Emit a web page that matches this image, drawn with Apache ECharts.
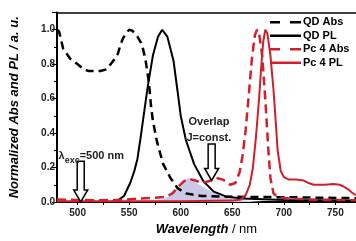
<!DOCTYPE html>
<html>
<head>
<meta charset="utf-8">
<script src="https://cdn.jsdelivr.net/npm/echarts@6/dist/echarts.min.js"></script>
<style>
  html, body { margin: 0; padding: 0; background: #fff; }
  #chart { width: 356px; height: 241px; }
</style>
</head>
<body>
<div id="chart"></div>
<script>
// wavelength (nm) / normalized intensity
const qdAbsX = [480, 482, 486, 493, 500, 506, 511, 522, 528, 532, 536, 539, 542, 544, 547, 550, 553, 556, 558, 561, 563, 566, 569, 571, 573, 577, 583, 590, 597, 605, 620, 650, 700, 770]
const qdAbsY = [1.0, 0.99, 0.89, 0.83, 0.8, 0.77, 0.76, 0.76, 0.77, 0.8, 0.83, 0.86, 0.92, 0.95, 0.98, 1.0, 0.995, 0.975, 0.96, 0.93, 0.9, 0.82, 0.7, 0.57, 0.47, 0.35, 0.22, 0.14, 0.08, 0.05, 0.035, 0.03, 0.028, 0.022]

const qdPlX = [480, 530, 538, 545, 551, 555, 558, 561, 564, 568, 573, 578, 582, 587, 593, 597, 600, 605, 613, 622, 632, 645, 660, 700, 770]
const qdPlY = [0, 0, 0.005, 0.035, 0.11, 0.18, 0.25, 0.37, 0.5, 0.67, 0.85, 0.96, 1.0, 0.96, 0.82, 0.64, 0.5, 0.36, 0.22, 0.12, 0.06, 0.03, 0.02, 0.012, 0.008]

const pcAbsX = [480, 500, 520, 540, 560, 575, 585, 592, 598, 603, 608, 614, 620, 627, 634, 641, 648, 653, 657, 660, 663, 666, 669, 672, 674, 676, 679, 682, 685, 687, 690, 695, 720, 770]
const pcAbsY = [0.015, 0.012, 0.01, 0.012, 0.02, 0.025, 0.03, 0.05, 0.09, 0.12, 0.135, 0.125, 0.11, 0.12, 0.14, 0.13, 0.1, 0.11, 0.17, 0.27, 0.42, 0.62, 0.83, 0.97, 1.0, 0.98, 0.85, 0.6, 0.3, 0.14, 0.05, 0.025, 0.015, 0.01]

const pcPlX = [480, 600, 650, 658, 663, 667, 670, 673, 676, 678, 680, 682, 684, 687, 690, 692, 694, 697, 700, 705, 712, 719, 724, 729, 735, 740, 748, 754, 758, 762, 766, 770]
const pcPlY = [0.005, 0.005, 0.008, 0.015, 0.04, 0.1, 0.2, 0.38, 0.6, 0.78, 0.93, 1.0, 0.98, 0.85, 0.65, 0.48, 0.3, 0.18, 0.145, 0.13, 0.13, 0.125, 0.11, 0.1, 0.1, 0.1, 0.105, 0.1, 0.09, 0.075, 0.055, 0.04]

// shaded spectral overlap
const overlapX = [555, 570, 580, 588, 593, 598, 603, 607, 612, 618, 625, 632, 640, 650, 660, 672, 680]
const overlapY = [0, 0.005, 0.01, 0.03, 0.06, 0.09, 0.12, 0.14, 0.125, 0.1, 0.075, 0.055, 0.035, 0.02, 0.01, 0.003, 0]

const xLabels = [500, 550, 600, 650, 700, 750]
const xTickValues = [500, 525, 550, 575, 600, 625, 650, 675, 700, 725, 750]

const RED = '#d0202c'
const FONT = 'Liberation Sans, Arial, sans-serif'
const DASH_ICON = 'path://M0,0h10v2.5h-10zM20,0h11v2.5h-11z'
const SOLID_ICON = 'path://M0,0h31v2.5h-31z'

function pairs(xs, ys) {
  return xs.map((x, i) => [x, ys[i]])
}

const chart = echarts.init(document.getElementById('chart'))

chart.setOption({
  animation: false,
  textStyle: { fontFamily: FONT },
  grid: { left: 57, right: 0, top: 12.5, bottom: 30.5 },
  legend: {
    orient: 'vertical',
    left: 270,
    top: 15.5,
    padding: 0,
    itemWidth: 31,
    itemHeight: 2.5,
    itemGap: 0,
    textStyle: { fontSize: 11, fontWeight: 'bold', color: '#000', lineHeight: 13.5, padding: [0, 0, 0, -3] },
    data: [
      { name: 'QD Abs', icon: DASH_ICON },
      { name: 'QD PL', icon: SOLID_ICON },
      { name: 'Pc 4 Abs', icon: DASH_ICON },
      { name: 'Pc 4 PL', icon: SOLID_ICON },
    ],
  },
  xAxis: [
    {
      type: 'value',
      min: 480,
      max: 770,
      name: '{a|Wavelength} {b|/ nm}',
      nameLocation: 'middle',
      nameGap: 21,
      nameTextStyle: {
        rich: {
          a: { fontSize: 13, fontWeight: 'bold', fontStyle: 'italic', color: '#000' },
          b: { fontSize: 13, color: '#000' },
        },
      },
      axisLine: { lineStyle: { color: '#000', width: 2 } },
      axisTick: { customValues: xTickValues, length: 3, lineStyle: { color: '#000' } },
      axisLabel: { customValues: xLabels, margin: 6, fontSize: 10, fontWeight: 'bold', color: '#222' },
      splitLine: { show: false },
    },
    {
      type: 'value',
      position: 'top',
      min: 480,
      max: 770,
      axisLine: { lineStyle: { color: '#000', width: 1.5 } },
      axisTick: { show: false },
      axisLabel: { show: false },
      splitLine: { show: false },
    },
  ],
  yAxis: {
    type: 'value',
    min: 0,
    max: 1.1,
    interval: 0.2,
    name: 'Normalized Abs and PL / a. u.',
    nameLocation: 'middle',
    nameGap: 36,
    nameTextStyle: { fontSize: 13, fontWeight: 'bold', fontStyle: 'italic', color: '#000' },
    axisLine: { show: true, lineStyle: { color: '#000', width: 2 } },
    axisTick: { show: true, length: 5, lineStyle: { color: '#000' } },
    minorTick: { show: true, splitNumber: 2, length: 3, lineStyle: { color: '#000' } },
    axisLabel: {
      margin: 2,
      fontSize: 10,
      fontWeight: 'bold',
      color: '#222',
      formatter: v => (v > 1.05 ? '' : v.toFixed(1)),
    },
    splitLine: { show: false },
  },
  series: [
    {
      name: 'overlap',
      type: 'line',
      data: pairs(overlapX, overlapY),
      symbol: 'none',
      lineStyle: { width: 0 },
      areaStyle: { color: '#c9c8e6', opacity: 1 },
      z: 1,
      silent: true,
    },
    {
      name: 'QD Abs',
      type: 'line',
      data: pairs(qdAbsX, qdAbsY),
      symbol: 'none',
      lineStyle: { color: '#000', width: 2.5, type: [8, 5] },
      itemStyle: { color: '#000' },
      z: 3,
    },
    {
      name: 'QD PL',
      type: 'line',
      data: pairs(qdPlX, qdPlY),
      symbol: 'none',
      lineStyle: { color: '#000', width: 2 },
      itemStyle: { color: '#000' },
      z: 3,
    },
    {
      name: 'Pc 4 Abs',
      type: 'line',
      data: pairs(pcAbsX, pcAbsY),
      symbol: 'none',
      lineStyle: { color: RED, width: 2.5, type: [9, 5] },
      itemStyle: { color: RED },
      z: 4,
    },
    {
      name: 'Pc 4 PL',
      type: 'line',
      data: pairs(pcPlX, pcPlY),
      symbol: 'none',
      lineStyle: { color: RED, width: 2 },
      itemStyle: { color: RED },
      z: 4,
    },
  ],
})

// annotations, placed in data coordinates
const arrows = [
  { x: 503, tip: 0.0, top: 0.236 },
  { x: 630, tip: 0.125, top: 0.336 },
]
const notes = [
  { x: 481.5, y: 0.265, text: '{a|λ}{s|exc}{a|=500 nm}' },
  { x: 607.5, y: 0.465, text: '{a|Overlap}' },
  { x: 605.5, y: 0.37, text: '{a|J=const.}' },
]

function toPx(x, y) {
  return chart.convertToPixel({ xAxisIndex: 0, yAxisIndex: 0 }, [x, y])
}

function arrowShape(a) {
  const [tx, ty] = toPx(a.x, a.tip)
  const topY = toPx(a.x, a.top)[1]
  const hh = 12
  return [
    [tx - 3.5, topY], [tx + 3.5, topY], [tx + 3.5, ty - hh], [tx + 7, ty - hh],
    [tx, ty], [tx - 7, ty - hh], [tx - 3.5, ty - hh],
  ]
}

const graphics = arrows.map(a => ({
  type: 'polygon',
  shape: { points: arrowShape(a) },
  style: { fill: '#fff', stroke: '#000', lineWidth: 1.5 },
  z: 10,
}))

notes.forEach(n => {
  const [px, py] = toPx(n.x, n.y)
  graphics.push({
    type: 'text',
    x: px,
    y: py,
    z: 10,
    style: {
      text: n.text,
      verticalAlign: 'middle',
      rich: {
        a: { fontFamily: FONT, fontSize: 11, fontWeight: 'bold', fill: '#222', lineHeight: 14 },
        s: { fontFamily: FONT, fontSize: 9, fontWeight: 'bold', fill: '#222', padding: [8, 0, 0, 0], lineHeight: 14 },
      },
    },
  })
})

chart.setOption({ graphic: graphics })
</script>
</body>
</html>
